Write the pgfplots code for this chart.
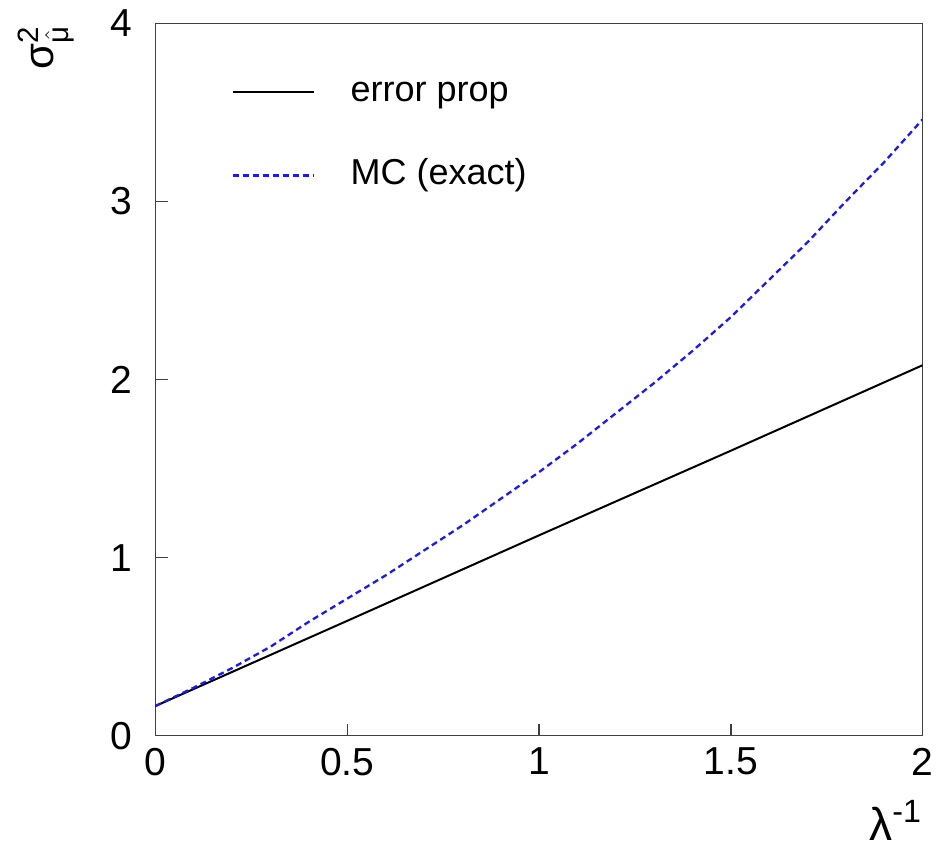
\documentclass[border=0pt]{standalone}
\usepackage{amsmath}
\usepackage{fontspec}
\setmainfont{Liberation Sans}
\usepackage{pgfplots}
\pgfplotsset{compat=1.18}
\usetikzlibrary{calc}
\definecolor{axgray}{HTML}{404040}
\definecolor{mcblue}{HTML}{1A1AF0}

\begin{document}
\begin{tikzpicture}
\begin{axis}[
    scale only axis,
    width=383.5pt,
    height=356.2pt,
    xmin=0, xmax=2,
    ymin=0, ymax=4,
    xtick={0,0.5,1,1.5,2},
    ytick={0,1,2,3,4},
    xticklabels={0,0.5,1,1.5,2},
    yticklabels={0,1,2,3,4},
    tick pos=left,
    tick align=inside,
    major tick length=6pt,
    tick style={axgray, line width=0.75pt},
    axis line style={axgray, line width=0.75pt},
    tick label style={font=\fontsize{19.5}{20}\selectfont, inner sep=0pt},
    xticklabel style={yshift=-6pt},
    yticklabel style={xshift=-11.5pt},
    xlabel={λ$^{\text{-1}}$},
    xlabel style={at={(axis description cs:1,0)}, anchor=north east,
        inner sep=0pt, yshift=-32pt, font=\fontsize{23}{24}\selectfont},
    ylabel={σ$^{\text{2}}_{\hat{\text{μ}}}$},
    ylabel style={at={(axis description cs:-0.143,0.997)}, anchor=east,
        inner sep=0pt, font=\fontsize{21}{22}\selectfont},
    legend style={draw=none, fill=none, at={(axis description cs:0.0984,0.9274)},
        anchor=north west, inner sep=0pt, row sep=24.5pt, column sep=18pt,
        font=\fontsize{18}{19}\selectfont,
        nodes={inner sep=0pt, text height=13pt, text depth=4pt}},
    legend cell align=left,
    legend image code/.code={\draw[#1] (0pt,0pt) -- (40.5pt,0pt);},
]
% error propagation (straight line)
\addplot[black, line width=1pt] coordinates {
    (0,0.167) (0.5,0.645) (1,1.125) (1.5,1.60) (2,2.08)
};
% Monte Carlo (exact)
\addplot[mcblue, line width=1.15pt, dash pattern=on 3pt off 2pt] coordinates {
    (0,0.167) (0.1,0.27) (0.2,0.38) (0.3,0.50) (0.4,0.64) (0.5,0.77)
    (0.6,0.90) (0.7,1.04) (0.8,1.18) (0.9,1.33) (1.0,1.48) (1.1,1.64)
    (1.2,1.81) (1.3,1.98) (1.4,2.16) (1.5,2.35) (1.6,2.56) (1.7,2.77)
    (1.8,3.00) (1.9,3.22) (2.0,3.46)
};
\legend{error prop, MC (exact)}
\end{axis}
\path ($(current axis.south west)+(-77.75pt,-57.65pt)$) rectangle
      ($(current axis.north east)+(9.25pt,11.65pt)$);
\end{tikzpicture}
\end{document}
